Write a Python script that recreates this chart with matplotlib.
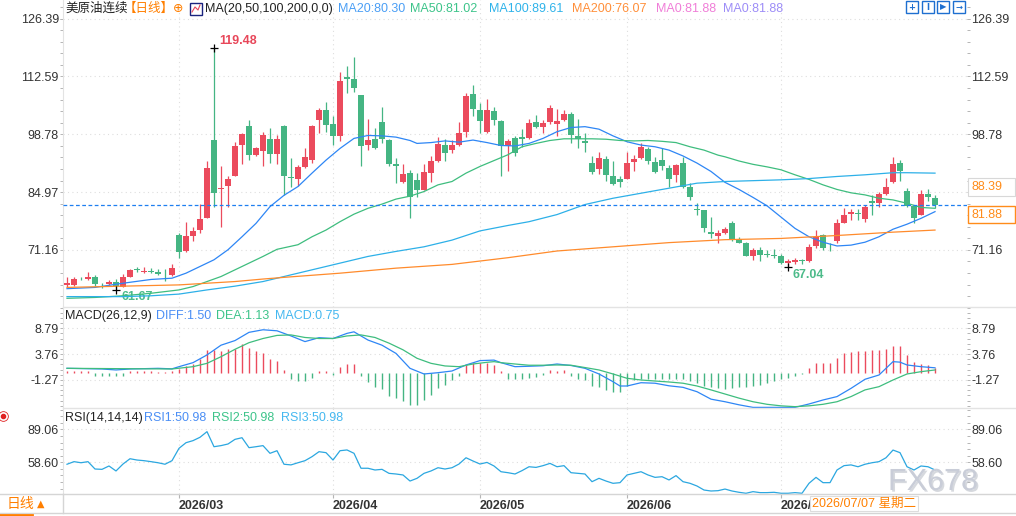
import numpy as np
import matplotlib
matplotlib.use("Agg")
import matplotlib.pyplot as plt
from matplotlib.patches import Rectangle
from matplotlib.lines import Line2D
from matplotlib.ticker import FixedLocator
import matplotlib.patheffects as pe

plt.rcParams['font.family'] = ['Liberation Sans', 'Noto Sans CJK SC', 'DejaVu Sans']

# ---- daily candles (index 0 .. 124) ----
opens = [62.8, 62.8, 64.3, 64.1, 64.7, 62.8, 63.0, 63.4, 62.2, 64.8,
         66.5, 65.8, 66.2, 65.8, 65.4, 65.1, 74.7, 71.0, 74.6, 75.9,
         78.9, 97.4, 85.6, 86.5, 88.9, 96.2, 100.8, 93.8, 94.9, 97.7,
         94.1, 100.8, 88.5, 88.2, 91.0, 92.6, 102.2, 104.6, 101.2, 98.4,
         112.4, 112.0, 108.2, 96.2, 97.7, 101.7, 97.4, 91.7, 87.5, 89.5,
         87.9, 85.5, 89.6, 92.5, 96.2, 95.0, 96.2, 99.4, 108.4, 104.6,
         99.4, 104.4, 102.0, 96.0, 97.9, 98.1, 97.9, 101.7, 100.5, 101.6,
         101.3, 102.2, 103.6, 98.4, 97.2, 91.9, 90.6, 92.9, 88.8, 88.1,
         88.1, 92.2, 93.1, 95.3, 92.2, 92.6, 90.8, 89.1, 91.9, 86.1,
         80.9, 80.7, 75.5, 74.6, 75.3, 77.5, 73.7, 72.9, 69.7, 71.1,
         70.2, 70.0, 69.8, 68.0, 68.2, 68.6, 68.4, 72.0, 74.7, 71.6,
         73.4, 77.7, 79.7, 79.9, 78.5, 82.9, 82.3, 84.4, 87.4, 92.0,
         85.2, 81.7, 79.6, 84.4, 83.6]
highs = [64.6, 64.8, 64.6, 65.8, 65.1, 63.2, 63.9, 64.1, 65.3, 66.7,
         67.0, 67.0, 66.8, 66.5, 66.6, 67.7, 75.3, 77.9, 76.7, 82.1,
         92.4, 119.48, 91.2, 88.8, 97.0, 99.2, 102.2, 95.8, 99.4, 100.2,
         98.5, 101.0, 93.2, 91.4, 95.4, 101.0, 105.0, 106.6, 103.2, 113.7,
         115.1, 117.3, 108.2, 102.4, 100.4, 105.4, 97.6, 93.2, 91.7, 90.3,
         89.5, 91.8, 93.6, 98.1, 97.7, 97.4, 101.6, 108.6, 110.6, 106.3,
         107.2, 105.2, 102.2, 97.6, 98.4, 100.0, 102.4, 103.4, 102.2, 105.8,
         104.8, 104.6, 104.1, 102.4, 99.0, 93.6, 94.5, 93.6, 92.4, 88.9,
         94.6, 93.8, 96.6, 95.8, 93.4, 95.4, 91.4, 91.8, 93.3, 87.1,
         82.3, 80.7, 79.1, 75.9, 76.7, 78.1, 74.3, 73.1, 71.5, 71.8,
         71.1, 71.4, 70.1, 68.9, 69.2, 69.1, 72.6, 75.9, 75.0, 72.7,
         78.5, 81.1, 81.0, 80.9, 81.9, 84.3, 84.9, 88.3, 93.4, 92.6,
         86.0, 81.7, 85.5, 85.7, 84.3]
lows = [62.4, 62.5, 63.9, 64.0, 62.6, 62.1, 62.8, 61.67, 62.2, 64.6,
        66.0, 65.6, 65.6, 65.2, 63.7, 65.0, 69.3, 70.7, 73.4, 75.1,
        78.7, 81.5, 76.7, 81.5, 88.7, 91.8, 92.6, 93.6, 91.2, 92.0,
        91.8, 84.3, 86.3, 86.4, 90.7, 92.0, 99.0, 99.4, 96.2, 97.2,
        108.7, 108.9, 91.1, 95.0, 95.3, 96.6, 91.1, 87.1, 87.2, 78.9,
        83.9, 85.5, 87.5, 92.2, 92.4, 94.4, 96.0, 98.2, 103.2, 99.2,
        99.2, 100.9, 88.7, 89.9, 93.6, 95.7, 97.6, 100.2, 99.2, 101.2,
        98.4, 102.0, 96.8, 95.6, 94.6, 89.3, 89.3, 87.7, 86.7, 86.2,
        88.0, 90.0, 92.9, 91.8, 89.5, 90.3, 86.1, 87.3, 86.0, 83.1,
        79.5, 75.5, 73.9, 72.9, 75.0, 73.4, 72.7, 69.7, 68.8, 68.6,
        69.4, 69.3, 67.8, 67.04, 67.9, 67.9, 68.2, 71.6, 71.2, 70.8,
        72.7, 77.5, 78.2, 78.3, 77.9, 79.5, 81.3, 84.3, 87.2, 87.7,
        81.5, 77.7, 79.4, 82.9, 81.1]
closes = [63.2, 64.2, 64.1, 64.8, 62.9, 62.7, 63.5, 62.6, 64.7, 66.4,
          66.3, 66.2, 66.0, 65.4, 65.3, 66.9, 70.7, 74.5, 75.7, 78.5,
          90.8, 84.8, 86.0, 88.1, 96.0, 98.9, 93.8, 95.4, 98.5, 94.1,
          97.7, 88.7, 88.3, 91.0, 93.4, 100.8, 104.6, 101.0, 98.4, 111.6,
          112.0, 109.9, 96.1, 97.4, 95.4, 97.7, 91.7, 91.1, 89.3, 83.7,
          85.5, 89.7, 92.4, 96.5, 94.4, 96.2, 99.0, 107.9, 104.8, 102.0,
          104.6, 102.2, 96.0, 97.2, 94.2, 97.7, 101.5, 100.5, 101.5, 105.1,
          102.0, 103.6, 98.6, 97.6, 96.6, 89.8, 93.2, 89.1, 86.8, 87.4,
          91.9, 92.9, 95.8, 92.4, 89.8, 91.1, 88.0, 91.4, 86.3, 83.9,
          80.8, 76.5, 74.9, 75.2, 76.2, 73.5, 72.9, 69.8, 71.1, 69.9,
          70.0, 69.8, 68.0, 68.5, 68.8, 68.5, 71.8, 74.3, 71.6, 71.5,
          77.5, 79.5, 80.1, 79.7, 81.5, 82.3, 84.4, 86.3, 91.8, 90.1,
          81.7, 78.9, 84.4, 83.7, 81.88]

# ---- moving averages, read at anchor candles ----
ma20_idx = [0, 4, 8, 12, 15, 17, 19, 21, 23, 25, 27, 29, 31, 33, 35, 37, 39, 41, 43, 45,
            47, 49, 50, 52, 54, 56, 58, 60, 62, 64, 66, 68, 70, 72, 74, 76, 78, 80, 82, 84,
            86, 88, 90, 92, 94, 96, 98, 100, 102, 104, 106, 108, 110, 112, 114, 116, 118,
            120, 122, 124]
ma20_val = [61.9, 62.2, 63.2, 64.1, 64.4, 65.6, 67.2, 68.8, 71.2, 74.3, 77.5, 81.5, 84.2,
            86.3, 89.5, 92.6, 95.4, 97.8, 98.5, 98.4, 98.1, 97.3, 96.6, 96.8, 97.2, 96.9,
            97.4, 96.8, 96.1, 96.0, 96.6, 97.8, 99.4, 100.4, 100.6, 100.0, 98.4, 97.0, 96.2,
            95.8, 95.0, 93.6, 91.9, 89.9, 87.3, 85.6, 83.7, 81.7, 79.0, 76.3, 74.3, 73.0,
            72.1, 72.3, 73.0, 74.3, 76.1, 77.3, 78.7, 80.3]
ma50_idx = [0, 4, 8, 12, 16, 18, 20, 22, 24, 26, 28, 30, 33, 35, 37, 39, 41, 43, 45, 47,
            49, 51, 53, 55, 57, 59, 61, 63, 65, 67, 69, 71, 73, 75, 77, 79, 81, 83, 85, 87,
            89, 91, 93, 94, 96, 98, 100, 102, 104, 106, 108, 110, 112, 114, 116, 118, 120,
            122, 124]
ma50_val = [59.6, 59.8, 60.2, 60.8, 61.6, 62.4, 63.6, 64.8, 66.4, 68.0, 69.6, 71.3, 72.4,
            74.3, 75.9, 77.9, 79.7, 81.1, 82.1, 83.3, 84.0, 85.1, 86.7, 87.5, 89.5, 91.1,
            92.5, 93.9, 95.8, 96.6, 97.3, 97.7, 97.7, 97.7, 97.6, 97.3, 97.2, 97.3, 97.1,
            96.8, 95.8, 95.0, 93.8, 93.4, 92.4, 91.6, 91.0, 90.3, 89.1, 88.0, 86.7, 85.6,
            84.8, 84.3, 83.5, 83.1, 82.3, 81.3, 81.1]
ma100_idx = [0, 8, 12, 16, 20, 24, 28, 31, 35, 39, 43, 47, 51, 55, 59, 63, 66, 70, 74, 78,
             82, 86, 90, 94, 98, 102, 106, 110, 114, 118, 120, 124]
ma100_val = [60.0, 60.0, 60.2, 60.6, 61.6, 62.5, 63.6, 64.8, 66.4, 68.0, 69.6, 70.8, 71.9,
             73.5, 75.7, 77.0, 77.9, 79.6, 82.0, 83.5, 84.7, 85.9, 87.1, 87.5, 87.7, 87.9,
             88.2, 88.7, 89.1, 89.6, 89.6, 89.5]
ma200_idx = [0, 8, 16, 20, 24, 28, 31, 39, 47, 55, 63, 70, 78, 86, 94, 102, 110, 118, 124]
ma200_val = [62.2, 62.5, 62.8, 63.2, 63.6, 64.2, 64.6, 65.6, 66.8, 67.7, 69.3, 70.9, 71.9,
             72.9, 73.6, 73.9, 74.6, 75.4, 75.9]

# ---- MACD ----
diff_idx = [0, 5, 7, 9, 13, 15, 16, 18, 20, 22, 24, 26, 28, 30, 32, 34, 36, 38, 40, 41,
            43, 45, 47, 49, 51, 53, 55, 57, 59, 61, 62, 64, 66, 68, 70, 72, 74, 76, 78, 79,
            80, 82, 84, 86, 88, 90, 92, 94, 96, 98, 100, 102, 104, 106, 108, 110, 112, 114,
            116, 118, 119, 120, 122, 124]
diff_val = [1.0, 0.87, 0.68, 0.87, 1.0, 0.9, 1.32, 2.1, 3.6, 5.5, 6.4, 8.0, 8.5, 8.3, 7.3,
            6.2, 6.96, 6.8, 7.8, 8.1, 6.5, 5.5, 3.9, 1.0, -0.1, 0.15, 0.48, 1.65, 2.5, 2.6,
            2.1, 1.32, 1.4, 1.5, 1.84, 1.55, 1.0, -0.1, -1.6, -2.44, -2.44, -1.8, -1.9,
            -2.4, -2.7, -3.55, -5.0, -5.5, -6.1, -6.6, -6.6, -6.6, -6.6, -5.94, -5.16,
            -4.5, -2.9, -1.13, -0.3, 2.3, 2.2, 1.65, 1.32, 1.1]
dea_idx = [0, 15, 18, 20, 22, 24, 26, 28, 30, 32, 34, 36, 38, 40, 42, 44, 46, 48, 50, 52,
           54, 56, 58, 60, 61, 62, 64, 66, 68, 70, 72, 74, 76, 78, 80, 82, 84, 86, 88, 90,
           92, 94, 96, 98, 100, 102, 104, 106, 108, 110, 112, 114, 116, 118, 120, 122, 124]
dea_val = [1.0, 0.87, 1.32, 1.97, 3.26, 4.7, 5.99, 6.8, 7.4, 7.5, 7.0, 6.8, 6.8, 7.3, 7.5,
           7.0, 5.9, 4.6, 2.95, 1.97, 1.46, 1.32, 1.84, 2.17, 2.3, 2.1, 1.84, 1.6, 1.6,
           1.65, 1.6, 1.15, 0.68, -0.1, -0.94, -1.27, -1.47, -1.66, -1.9, -2.44, -3.2,
           -4.0, -4.8, -5.5, -6.0, -6.3, -6.46, -6.3, -6.0, -5.5, -4.5, -3.2, -2.57,
           -1.27, -0.1, 0.35, 0.68]
macd_hist = [0.4, 0.4, 0.4, 0.4, -0.4, -0.4, -0.5, -0.5, -0.4, 0.4,
             0.4, 0.4, 0.4, 0.35, 0.3, 0.4, 0.85, 1.5, 1.8, 2.8,
             4.6, 4.6, 4.4, 4.7, 4.7, 5.7, 4.9, 4.3, 3.9, 2.8,
             2.5, 0.65, -1.1, -1.4, -1.4, -0.8, 0.4, 0.4, -0.3, 1.2,
             1.9, 1.8, -0.45, -1.75, -2.7, -3.0, -4.3, -4.8, -5.3, -6.1,
             -6.1, -5.2, -4.15, -2.85, -2.2, -1.3, -0.45, 1.7, 2.1, 1.95,
             1.95, 1.7, 0.4, -1.1, -1.1, -1.1, -0.8, -0.65, -0.3, 0.65,
             0.5, 0.65, -0.5, -1.0, -1.3, -2.4, -2.7, -3.2, -3.7, -3.7,
             -2.4, -1.3, -1.0, -1.0, -1.1, -1.1, -1.1, -1.0, -1.1, -1.4,
             -1.95, -2.4, -2.7, -2.85, -3.0, -2.85, -2.7, -2.7, -2.4, -2.2,
             -1.95, -1.4, -1.1, -0.9, -0.5, -0.15, 1.05, 1.95, 2.1, 2.1,
             3.1, 3.9, 4.2, 4.4, 4.4, 4.5, 4.5, 4.7, 5.25, 5.25,
             3.6, 2.3, 1.8, 1.7, 1.05]

# ---- RSI(14) ----
rsi = [56.8, 59.2, 58.2, 59.2, 52.4, 52.1, 55.2, 50.6, 57.0, 61.9,
       60.7, 60.1, 59.2, 58.2, 56.8, 60.1, 71.5, 76.7, 78.6, 81.7,
       86.9, 73.0, 74.0, 75.5, 79.8, 81.3, 72.1, 73.0, 74.0, 66.9,
       69.3, 56.8, 56.2, 58.2, 60.1, 63.8, 68.4, 67.5, 60.7, 69.3,
       70.0, 66.9, 53.1, 53.1, 51.5, 52.1, 48.4, 47.8, 46.9, 41.3,
       43.8, 48.4, 50.6, 53.6, 52.4, 53.6, 57.0, 62.8, 59.8, 57.0,
       58.5, 55.2, 49.9, 49.0, 47.8, 50.9, 54.5, 53.9, 55.5, 57.6,
       54.5, 55.5, 49.0, 48.4, 47.8, 40.7, 43.8, 41.3, 39.2, 39.8,
       46.9, 48.4, 49.9, 46.9, 44.7, 45.3, 42.3, 46.3, 40.7, 39.2,
       36.7, 33.0, 32.1, 32.4, 33.9, 32.1, 30.9, 30.0, 31.5, 30.6,
       30.6, 30.9, 30.0, 30.0, 30.6, 30.0, 39.2, 44.7, 39.8, 39.8,
       51.5, 55.5, 56.2, 54.5, 56.8, 58.2, 59.2, 62.8, 69.9, 67.5,
       54.5, 51.5, 55.2, 54.5, 51.5]

month_idx = [16, 38, 59, 80, 102]
month_labels = ['2026/03', '2026/04', '2026/05', '2026/06', '2026/07']
price_ticks = [126.39, 112.59, 98.78, 84.97, 71.16]
macd_ticks = [8.79, 3.76, -1.27]
rsi_ticks = [89.06, 58.60]
last_price = 81.88

RED = '#EB4B5D'
GREEN = '#45B583'
C_MA20 = '#2E86F5'
C_MA50 = '#3EBD7E'
C_MA100 = '#2DB0E8'
C_MA200 = '#FF8B2C'
GRID = '#dedede'
SEP = '#e3e3e3'
TXT = '#333333'

W, H = 1016, 516


def fx(px):
    return px / W


def fy(py):
    return 1 - py / H


fig = plt.figure(figsize=(W / 100, H / 100), dpi=100)
left, right = fx(63), fx(967)
ax = fig.add_axes([left, fy(307), right - left, 307 / H])
axm = fig.add_axes([left, fy(408), right - left, 101 / H], sharex=ax)
axr = fig.add_axes([left, fy(494), right - left, 86 / H], sharex=ax)

x = np.arange(len(closes))
o = np.array(opens)
c = np.array(closes)
up = c >= o
cols = np.where(up, RED, GREEN)

# candles
ax.vlines(x, lows, highs, colors=cols, lw=0.9, zorder=3)
ax.bar(x, np.maximum(np.abs(c - o), 0.15), bottom=np.minimum(o, c), width=0.72,
       color=cols, linewidth=0, zorder=3)

ax.plot(ma20_idx, ma20_val, color=C_MA20, lw=0.9, zorder=4)
ax.plot(ma50_idx, ma50_val, color=C_MA50, lw=0.9, zorder=4)
ax.plot(ma100_idx, ma100_val, color=C_MA100, lw=0.9, zorder=4)
ax.plot(ma200_idx, ma200_val, color=C_MA200, lw=0.9, zorder=4)
ax.axhline(last_price, color='#1E7FF0', lw=0.9, dashes=(3, 2), zorder=5)

# high / low marks
hi_i = int(np.argmax(highs))
lo_i = int(np.argmin(lows[:40]))
lo2_i = 60 + int(np.argmin(lows[60:]))
for i, v in [(hi_i, highs[hi_i]), (lo_i, lows[lo_i]), (lo2_i, lows[lo2_i])]:
    ax.plot(i, v, marker='+', color='black', ms=6, mew=0.9, zorder=6)
ax.annotate(f'{highs[hi_i]:.2f}', (hi_i, highs[hi_i]), xytext=(3.5, 5),
            textcoords='offset points', ha='left', va='center', color='#E8475A',
            fontsize=9, fontweight='bold')
ax.annotate(f'{lows[lo_i]:.2f}', (lo_i, lows[lo_i]), xytext=(4, -5),
            textcoords='offset points', ha='left', va='center', color='#4DBB8A',
            fontsize=9, fontweight='bold')
ax.annotate(f'{lows[lo2_i]:.2f}', (lo2_i, lows[lo2_i]), xytext=(3.5, -5.5),
            textcoords='offset points', ha='left', va='center', color='#4DBB8A',
            fontsize=9, fontweight='bold')

# MACD
hist = np.array(macd_hist)
axm.vlines(x, 0, hist, colors=np.where(hist >= 0, RED, GREEN), lw=1.0, zorder=3)
axm.plot(diff_idx, diff_val, color=C_MA20, lw=0.9, zorder=4)
axm.plot(dea_idx, dea_val, color=C_MA50, lw=0.9, zorder=4)

# RSI
axr.plot(x, rsi, color='#2BA7E0', lw=0.9, zorder=4)

ax.set_ylim(57.52, 130.86)
axm.set_ylim(-6.72, 12.93)
axr.set_ylim(29.33, 108.74)
ax.set_xlim(-0.571, 128.57)

for a, ticks, step in [(ax, price_ticks, 13.81), (axm, macd_ticks, 5.03), (axr, rsi_ticks, 30.46)]:
    a.set_yticks(ticks)
    a.set_yticklabels([f'{t:.2f}' for t in ticks])
    lo_t = min(ticks) - 6 * step
    minors = [lo_t + k * step / 5 for k in range(60)]
    a.yaxis.set_minor_locator(FixedLocator(minors))
    a.tick_params(axis='y', which='both', left=True, right=True, labelleft=True,
                  labelright=True, direction='out', length=2, width=0.7,
                  color='#b5b5b5', labelsize=9, labelcolor=TXT, pad=1)
    a.grid(axis='y', which='major', linestyle=(0, (1, 3)), color=GRID, lw=0.8)
    for m in month_idx:
        a.axvline(m, linestyle=(0, (1, 3)), color=GRID, lw=0.8, zorder=0)
    for s in ['top', 'right', 'bottom']:
        a.spines[s].set_visible(False)
    a.spines['left'].set_color(SEP)
    a.set_facecolor('none')

# the right-hand 84.97 label sits under the 88.39 price box
ax.yaxis.get_major_ticks()[3].label2.set_visible(False)

ax.tick_params(axis='x', bottom=False, labelbottom=False)
axm.tick_params(axis='x', bottom=False, labelbottom=False)
axr.set_xticks(month_idx)
axr.set_xticklabels(month_labels, ha='left', fontsize=9, fontweight='bold', color=TXT)
axr.tick_params(axis='x', direction='out', length=3, color='#b5b5b5', pad=1)

# panel separators
for yy in [307, 408]:
    fig.add_artist(Line2D([fx(63), 1], [fy(yy), fy(yy)], color=SEP, lw=1))
for yy in [494, 513]:
    fig.add_artist(Line2D([0, 1], [fy(yy), fy(yy)], color='#d5d5d5', lw=1))
fig.add_artist(Line2D([fx(62.5), fx(62.5)], [fy(494), fy(513)], color='#d5d5d5', lw=1))

# header line
hy = fy(9)
fig.text(fx(65), hy, '美原油连续', color='#222222', fontsize=9, va='center')
fig.text(fx(124), hy, '【日线】', color='#FF7F00', fontsize=9, va='center')
fig.text(fx(173), hy, '⊕', color='#FF7F00', fontsize=9, va='center', family='DejaVu Sans')
fig.add_artist(Rectangle((fx(190), fy(15)), 12 / W, 12 / H, transform=fig.transFigure,
                         fc='white', ec='#1a237e', lw=1))
fig.add_artist(Line2D([fx(192), fx(195), fx(198), fx(200)], [fy(12), fy(7), fy(10), fy(5)],
                      color='#E8475A', lw=0.8))
fig.text(fx(205), hy, 'MA(20,50,100,200,0,0)', color='#222222', fontsize=9, va='center')
for txt, xp, col in [('MA20:80.30', 338, '#4A9EF5'), ('MA50:81.02', 410, '#3DC48A'),
                     ('MA100:89.61', 489, '#2FB3EA'), ('MA200:76.07', 572, '#FF8F3A'),
                     ('MA0:81.88', 656, '#F07ED8'), ('MA0:81.88', 723, '#9D8DF7')]:
    fig.text(fx(xp), hy, txt, color=col, fontsize=9, va='center')

# top-right tool icons
for xp, g in [(906, '+'), (922, 'I'), (937, '▶'), (953, '→')]:
    fig.add_artist(Rectangle((fx(xp), fy(13)), 12 / W, 12 / H, transform=fig.transFigure,
                             fc='white', ec='#1E6FD0', lw=1))
    fig.text(fx(xp + 6), fy(7), g, color='#1E6FD0', fontsize=6, ha='center', va='center',
             family='DejaVu Sans', fontweight='bold')

# MACD / RSI headers
my = fy(316)
fig.text(fx(65), my, 'MACD(26,12,9)', color='#222222', fontsize=9, va='center')
fig.text(fx(156), my, 'DIFF:1.50', color='#4A8EF5', fontsize=9, va='center')
fig.text(fx(216), my, 'DEA:1.13', color='#3DC48A', fontsize=9, va='center')
fig.text(fx(275), my, 'MACD:0.75', color='#45B8F0', fontsize=9, va='center')
ry = fy(418)
fig.text(fx(65), ry, 'RSI(14,14,14)', color='#222222', fontsize=9, va='center')
fig.text(fx(144), ry, 'RSI1:50.98', color='#4A8EF5', fontsize=9, va='center')
fig.text(fx(212), ry, 'RSI2:50.98', color='#3DC48A', fontsize=9, va='center')
fig.text(fx(281), ry, 'RSI3:50.98', color='#45B8F0', fontsize=9, va='center')

# right axis price boxes
fig.add_artist(Rectangle((fx(968), fy(195.5)), 47 / W, 17.5 / H, transform=fig.transFigure,
                         fc='white', ec='#d8d8d8', lw=0.8, zorder=5))
fig.text(fx(971), fy(187), '88.39', color='#FF8C1A', fontsize=9, va='center', zorder=6)
fig.add_artist(Rectangle((fx(968), fy(223)), 47 / W, 17 / H, transform=fig.transFigure,
                         fc='white', ec='#FF8C1A', lw=1, zorder=5))
fig.text(fx(971), fy(214.5), f'{last_price:.2f}', color='#FF8C1A', fontsize=9,
         va='center', zorder=6)

# bottom left period button and small marker
fig.text(fx(7), fy(504), '日线', color='#FF7F00', fontsize=10, va='center')
fig.text(fx(37), fy(504), '▲', color='#FF7F00', fontsize=7, va='center', family='DejaVu Sans')
fig.add_artist(Line2D([0, fx(32)], [fy(514.5), fy(514.5)], color='#FF7F00', lw=2))
fig.add_artist(Line2D([fx(3)], [fy(416)], marker='o', ms=3, mfc='#E02020', mec='#E02020'))
fig.add_artist(Line2D([fx(3)], [fy(416)], marker='o', ms=7, mfc='none', mec='#E02020', mew=0.6))

# watermark and date hint
fig.text(fx(888), fy(490), 'FX678', color='#c9cdd8', fontsize=22, va='baseline', zorder=6,
         path_effects=[pe.withSimplePatchShadow(offset=(1.2, -1.2), shadow_rgbFace='#9aa0ad',
                                                alpha=0.4)])
fig.text(fx(812), fy(503.5), '2026/07/07 星期二', color='#FF8000', fontsize=9, va='center',
         zorder=7, bbox=dict(boxstyle='square,pad=0.15', fc='white', ec='#dddddd', lw=0.8))

fig.savefig('out.png', dpi=100, facecolor='white')
